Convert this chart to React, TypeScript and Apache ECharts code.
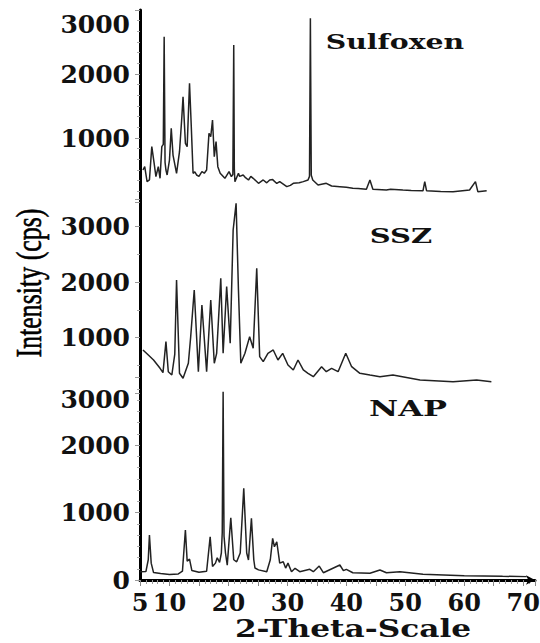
import React, { useEffect, useRef } from "react";
import * as echarts from "echarts";

// 2-theta (degrees) and intensity (cps)
const sulfoxenTheta = [5.5, 5.8, 6.2, 6.6, 7.0, 7.4, 7.7, 8.1, 8.4, 8.7, 8.95, 9.1, 9.25, 9.4, 9.6, 10.0, 10.3, 10.6, 11.2, 11.7, 12.1, 12.3, 12.7, 13.0, 13.4, 13.7, 14.0, 14.3, 14.6, 15.0, 15.5, 15.9, 16.3, 16.7, 17.0, 17.3, 17.6, 17.9, 18.2, 18.6, 19.4, 20.1, 20.5, 20.75, 20.9, 21.0, 21.1, 21.7, 21.9, 22.5, 22.9, 23.4, 23.8, 24.2, 25.1, 25.9, 26.5, 27.0, 27.5, 28.2, 28.7, 29.9, 30.5, 31.0, 32.0, 32.7, 33.5, 33.75, 33.9, 34.05, 34.3, 35.2, 36.6, 37.5, 38.9, 40.0, 41.1, 42.0, 43.4, 44.0, 44.5, 46.8, 47.5, 49.6, 51.0, 53.0, 53.3, 53.6, 56.0, 58.1, 60.9, 61.9, 62.3, 63.8];
const sulfoxenIntensity = [500, 552, 318, 344, 865, 604, 396, 552, 370, 865, 900, 2583, 620, 500, 422, 656, 1151, 734, 448, 786, 1333, 1645, 917, 865, 1854, 1177, 448, 470, 422, 400, 474, 450, 500, 1073, 1021, 1281, 708, 943, 552, 448, 370, 474, 396, 430, 2453, 520, 318, 448, 400, 422, 380, 344, 400, 370, 292, 344, 300, 344, 350, 290, 318, 240, 260, 292, 300, 318, 344, 400, 2870, 420, 344, 265, 292, 250, 240, 230, 214, 210, 198, 344, 198, 187, 200, 187, 180, 175, 318, 177, 165, 161, 187, 318, 161, 177];

const sszTheta = [5.5, 6.1, 7.3, 8.4, 8.9, 9.4, 9.8, 10.4, 10.9, 11.2, 11.7, 12.3, 13.2, 13.6, 14.2, 14.9, 15.5, 16.3, 17.0, 17.6, 18.0, 18.7, 19.1, 19.7, 20.3, 20.8, 21.3, 21.7, 22.1, 22.8, 23.6, 24.2, 24.8, 25.3, 25.9, 26.7, 27.6, 28.4, 29.2, 30.1, 31.0, 31.8, 32.7, 33.5, 34.4, 35.8, 36.6, 37.5, 38.6, 39.9, 40.9, 42.3, 44.0, 45.7, 47.9, 52.5, 58.1, 62.1, 64.6];
const sszIntensity = [775, 715, 595, 445, 366, 925, 384, 324, 700, 2036, 355, 265, 535, 1015, 1856, 384, 1586, 384, 1676, 535, 715, 2066, 715, 1916, 895, 2937, 3418, 1856, 535, 715, 1015, 805, 2247, 655, 565, 715, 775, 595, 715, 505, 415, 595, 415, 355, 294, 474, 384, 444, 384, 715, 474, 355, 324, 294, 324, 234, 204, 234, 204];

const napTheta = [5.0, 6.0, 6.4, 6.6, 6.9, 7.3, 8.5, 10.0, 11.5, 12.2, 12.7, 13.0, 13.4, 13.8, 15.0, 16.3, 16.9, 17.3, 17.8, 18.1, 18.5, 18.8, 18.95, 19.1, 19.25, 19.5, 19.8, 20.4, 20.9, 21.4, 22.0, 22.6, 23.1, 23.4, 23.9, 24.3, 24.5, 25.1, 26.5, 27.1, 27.5, 27.8, 28.2, 28.7, 29.3, 29.7, 30.1, 30.7, 31.3, 32.1, 33.8, 34.4, 35.4, 36.1, 38.9, 39.5, 40.0, 41.1, 44.0, 45.7, 46.8, 49.1, 53.0, 60.0, 66.5, 70.6];
const napIntensity = [123, 125, 300, 666, 250, 110, 95, 80, 90, 130, 740, 280, 310, 140, 115, 130, 640, 200, 250, 330, 260, 400, 700, 2787, 650, 400, 220, 923, 300, 270, 400, 1357, 400, 296, 913, 300, 178, 150, 123, 300, 617, 493, 567, 250, 271, 177, 250, 123, 173, 123, 158, 123, 207, 108, 222, 138, 158, 108, 99, 148, 108, 123, 85, 64, 55, 50];

const sampleNames = ["Sulfoxen", "SSZ", "NAP"];
const yTickLabels = [1000, 2000, 3000];
const xTickLabels = [5, 10, 20, 30, 40, 50, 60, 70];
const xTitle = "2-Theta-Scale";
const yTitle = "Intensity (cps)";

const pairs = (xs: number[], ys: number[]) => xs.map((x, i) => [x, ys[i]]);

const LABEL_FONT = "DejaVu Serif";
const INK = "#111";

export default function App() {
  const ref = useRef<HTMLDivElement>(null);
  useEffect(() => {
    if (!ref.current) return;
    const chart = echarts.init(ref.current, null, { renderer: "svg" });

    const xBase = {
      type: "value" as const,
      min: 5,
      max: 72,
      interval: 5,
    };
    const hiddenX = (gi: number) => ({ ...xBase, gridIndex: gi, show: false });

    const yAxisFor = (gi: number, max: number, showZero: boolean, shift: number, minorSplit: number) => ({
      type: "value" as const,
      gridIndex: gi,
      min: 0,
      max,
      interval: 1000,
      splitLine: { show: false },
      axisLine: { show: true, lineStyle: { color: "#000", width: 3 } },
      axisTick: { show: true, length: 5, lineStyle: { color: "#999", width: 1 } },
      minorTick: { show: true, splitNumber: minorSplit, length: 3, lineStyle: { color: "#aaa", width: 1 } },
      axisLabel: {
        show: true,
        margin: 10,
        color: INK,
        fontFamily: LABEL_FONT,
        fontWeight: "bold",
        fontSize: 25,
        lineHeight: shift > 0 ? shift * 2 : 28,
        formatter: (v: number) => {
          if (v === 0 && showZero) return "0";
          if (yTickLabels.indexOf(v) < 0) return "";
          if (v === 3000 && shift > 0) return "\n" + String(v);
          return String(v);
        },
      },
    });

    const lineSeries = (name: string, xs: number[], ys: number[], gi: number) => ({
      name,
      type: "line" as const,
      xAxisIndex: gi,
      yAxisIndex: gi,
      data: pairs(xs, ys),
      showSymbol: false,
      symbol: "none",
      lineStyle: { color: "#222", width: 1.5 },
      z: 3,
    });

    const gridBase = { left: 140, right: 5, outerBoundsMode: "none", containLabel: false };

    chart.setOption({
      animation: false,
      backgroundColor: "#fff",
      grid: [
        { ...gridBase, top: 10, height: 192 },
        { ...gridBase, top: 198.75, height: 194.25 },
        { ...gridBase, top: 377.5, height: 202.5 },
      ],
      xAxis: [
        hiddenX(0),
        hiddenX(1),
        {
          ...xBase,
          gridIndex: 2,
          splitLine: { show: false },
          axisLine: {
            show: true,
            onZero: false,
            symbol: ["none", "arrow"],
            symbolSize: [7, 9],
            lineStyle: { color: "#000", width: 3 },
          },
          axisTick: { show: true, length: 6, lineStyle: { color: "#888", width: 1 } },
          minorTick: { show: true, splitNumber: 5, length: 4, lineStyle: { color: "#999", width: 1 } },
          axisLabel: {
            show: true,
            margin: 10,
            color: INK,
            fontFamily: LABEL_FONT,
            fontWeight: "bold",
            fontSize: 24,
            hideOverlap: false,
            formatter: (v: number) => (xTickLabels.indexOf(v) >= 0 ? String(v) : ""),
          },
        },
      ],
      yAxis: [
        yAxisFor(0, 3000, false, 14, 6),
        yAxisFor(1, 3500, false, 0, 2),
        yAxisFor(2, 3000, true, 22, 6),
      ],
      series: [
        lineSeries(sampleNames[0], sulfoxenTheta, sulfoxenIntensity, 0),
        lineSeries(sampleNames[1], sszTheta, sszIntensity, 1),
        lineSeries(sampleNames[2], napTheta, napIntensity, 2),
      ],
      graphic: [
        {
          type: "text",
          x: 30,
          y: 283,
          rotation: Math.PI / 2,
          scaleX: 0.74,
          style: {
            text: yTitle,
            fontFamily: "Liberation Serif",
            fontSize: 35,
            fill: "#000",
            stroke: "#000",
            lineWidth: 0.6,
            textAlign: "center",
            textVerticalAlign: "middle",
          },
        },
        {
          type: "text",
          x: 353,
          y: 629,
          scaleX: 1.3,
          style: {
            text: xTitle,
            fontFamily: LABEL_FONT,
            fontWeight: "bold",
            fontSize: 24,
            fill: INK,
            textAlign: "center",
            textVerticalAlign: "middle",
          },
        },
        {
          type: "text",
          x: 395,
          y: 42,
          scaleX: 1.35,
          style: {
            text: sampleNames[0],
            fontFamily: LABEL_FONT,
            fontWeight: "bold",
            fontSize: 21,
            fill: INK,
            textAlign: "center",
            textVerticalAlign: "middle",
          },
        },
        {
          type: "text",
          x: 401,
          y: 236,
          scaleX: 1.45,
          style: {
            text: sampleNames[1],
            fontFamily: LABEL_FONT,
            fontWeight: "bold",
            fontSize: 20,
            fill: INK,
            textAlign: "center",
            textVerticalAlign: "middle",
          },
        },
        {
          type: "text",
          x: 408,
          y: 408,
          scaleX: 1.45,
          style: {
            text: sampleNames[2],
            fontFamily: LABEL_FONT,
            fontWeight: "bold",
            fontSize: 22,
            fill: INK,
            textAlign: "center",
            textVerticalAlign: "middle",
          },
        },
      ],
    });

    return () => chart.dispose();
  }, []);

  return (
    <div
      ref={ref}
      style={{ position: "fixed", left: 0, top: 0, width: 540, height: 643, background: "#fff" }}
    />
  );
}
